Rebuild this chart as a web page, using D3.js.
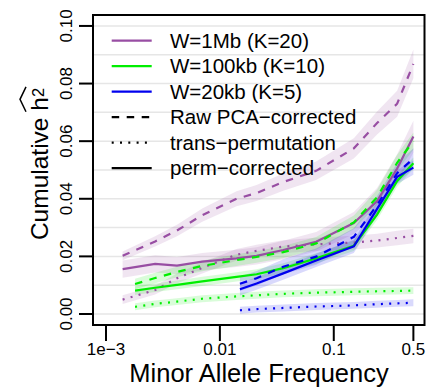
<!DOCTYPE html>
<html lang="en">
<head>
  <meta charset="UTF-8">
  <title>Cumulative h2 by MAF</title>
  <script src="https://d3js.org/d3.v7.min.js"></script>
  <style>
    body { margin: 0; background: #fff; }
    text { font-family: "Liberation Sans", Arial, Helvetica, sans-serif; fill: #000; }
  </style>
</head>
<body>
  <svg id="chart"></svg>

  <script>
    // MAF points (x) for each window size
    const mafW1 = [0.0014, 0.0027, 0.0042, 0.007, 0.014, 0.021, 0.036, 0.07, 0.15, 0.24, 0.36, 0.5];
    const mafW100 = [0.0018, 0.0027, 0.0042, 0.007, 0.014, 0.021, 0.036, 0.07, 0.15, 0.24, 0.36, 0.5];
    const mafW20 = [0.015, 0.021, 0.036, 0.07, 0.15, 0.24, 0.36, 0.5];

    // W=1Mb (K=20)
    const raw1 = [0.0202, 0.0252, 0.0290, 0.0343, 0.0400, 0.0420, 0.0458, 0.0497, 0.0575, 0.0663, 0.0730, 0.0868];
    const raw1Se = [0.0015, 0.0018, 0.002, 0.0023, 0.0026, 0.0028, 0.003, 0.0032, 0.0035, 0.004, 0.0045, 0.005];
    const perm1 = [0.0156, 0.0174, 0.0168, 0.0182, 0.0193, 0.0202, 0.0222, 0.0251, 0.0316, 0.0392, 0.0505, 0.0616];
    const perm1Se = [0.003, 0.003, 0.003, 0.003, 0.003, 0.003, 0.0032, 0.0034, 0.0038, 0.0045, 0.005, 0.0055];
    const trans1 = [0.0050, 0.0083, 0.0124, 0.0160, 0.0206, 0.0219, 0.0234, 0.0242, 0.0248, 0.0255, 0.0264, 0.0271];
    const trans1Se = [0.0015, 0.0015, 0.0017, 0.0019, 0.002, 0.0021, 0.0022, 0.0023, 0.0024, 0.0024, 0.0025, 0.0025];

    // W=100kb (K=10)
    const raw100 = [0.0104, 0.0125, 0.0146, 0.0167, 0.0187, 0.0198, 0.0215, 0.0245, 0.0318, 0.0405, 0.0525, 0.0600];
    const raw100Se = [0.0018, 0.0018, 0.0018, 0.0019, 0.002, 0.002, 0.0021, 0.0022, 0.0024, 0.0026, 0.0028, 0.003];
    const perm100 = [0.0081, 0.0091, 0.0101, 0.0113, 0.0129, 0.0138, 0.0159, 0.0193, 0.0237, 0.0345, 0.0462, 0.0523];
    const perm100Se = [0.0015, 0.0015, 0.0015, 0.0016, 0.0016, 0.0017, 0.0017, 0.0018, 0.0018, 0.0019, 0.002, 0.002];
    const trans100 = [0.0025, 0.0035, 0.0043, 0.0053, 0.0061, 0.0065, 0.0070, 0.0074, 0.0077, 0.0079, 0.0080, 0.0081];
    const trans100Se = [0.0012, 0.0012, 0.0012, 0.0012, 0.0012, 0.0012, 0.0012, 0.0012, 0.0012, 0.0012, 0.0012, 0.0012];

    // W=20kb (K=5)
    const raw20 = [0.0105, 0.0124, 0.0164, 0.0199, 0.0268, 0.0378, 0.0489, 0.0540];
    const raw20Se = [0.0025, 0.0025, 0.0026, 0.0028, 0.003, 0.0032, 0.0035, 0.0035];
    const perm20 = [0.0086, 0.0106, 0.0141, 0.0186, 0.0235, 0.0365, 0.0476, 0.0508];
    const perm20Se = [0.0022, 0.0022, 0.0022, 0.0023, 0.0023, 0.0024, 0.0025, 0.0025];
    const trans20 = [0.0013, 0.0017, 0.0021, 0.0026, 0.0030, 0.0034, 0.0037, 0.0039];
    const trans20Se = [0.0012, 0.0012, 0.0012, 0.0012, 0.0012, 0.0012, 0.0012, 0.0012];

    const xTicks = [0.001, 0.01, 0.1, 0.5];
    const xTickLabels = ["1e\u22123", "0.01", "0.1", "0.5"];
    const yTicks = [0, 0.02, 0.04, 0.06, 0.08, 0.10];
    const yGrid = d3.range(0, 0.1001, 0.01);

    const legendLabels = ["W=1Mb (K=20)", "W=100kb (K=10)", "W=20kb (K=5)",
      "Raw PCA\u2212corrected", "trans\u2212permutation", "perm\u2212corrected"];

    const purple = "#984ea3", green = "#00ee00", blue = "#0000ee";
    const dashed = "7.5,7.5", dotted = "2,6.3";

    const series = [
      { maf: mafW1, val: raw1, se: raw1Se, color: purple, dash: dashed },
      { maf: mafW1, val: perm1, se: perm1Se, color: purple, dash: null },
      { maf: mafW1, val: trans1, se: trans1Se, color: purple, dash: dotted },
      { maf: mafW100, val: raw100, se: raw100Se, color: green, dash: dashed },
      { maf: mafW100, val: perm100, se: perm100Se, color: green, dash: null },
      { maf: mafW100, val: trans100, se: trans100Se, color: green, dash: dotted },
      { maf: mafW20, val: raw20, se: raw20Se, color: blue, dash: dashed },
      { maf: mafW20, val: perm20, se: perm20Se, color: blue, dash: null },
      { maf: mafW20, val: trans20, se: trans20Se, color: blue, dash: dotted }
    ];

    const width = 427, height = 389;
    const pLeft = 93, pRight = 424.5, pTop = 15, pBottom = 325;

    const svg = d3.select("#chart").attr("width", width).attr("height", height);

    const x = d3.scaleLog().domain([0.000769, 0.626]).range([pLeft, pRight]);
    const y = d3.scaleLinear().domain([-0.00382, 0.1038]).range([pBottom, pTop]);

    // grid
    svg.append("g").selectAll("line")
      .data(yGrid)
      .join("line")
      .attr("x1", pLeft).attr("x2", pRight)
      .attr("y1", d => y(d)).attr("y2", d => y(d))
      .attr("stroke", "#e6e6e6").attr("stroke-width", 1.5);

    // bands
    const area = d3.area()
      .x(d => x(d.m))
      .y0(d => y(d.v - d.s))
      .y1(d => y(d.v + d.s));

    const line = d3.line()
      .x(d => x(d.m))
      .y(d => y(d.v));

    series.forEach(s => {
      s.pts = s.maf.map((m, i) => ({ m, v: s.val[i], s: s.se[i] }));
    });

    svg.append("g").selectAll("path")
      .data(series)
      .join("path")
      .attr("d", s => area(s.pts))
      .attr("fill", s => s.color)
      .attr("fill-opacity", 0.15);

    svg.append("g").selectAll("path")
      .data(series)
      .join("path")
      .attr("d", s => line(s.pts))
      .attr("fill", "none")
      .attr("stroke", s => s.color)
      .attr("stroke-width", 2.2)
      .attr("stroke-dasharray", s => s.dash);

    // legend
    const legendColors = [purple, green, blue, "#000", "#000", "#000"];
    const legendDash = [null, null, null, dashed, dotted, null];
    const lg = svg.append("g");
    legendLabels.forEach((lab, i) => {
      const ly = 40.7 + i * 25.5;
      lg.append("line")
        .attr("x1", 111.7).attr("x2", 151.7)
        .attr("y1", ly).attr("y2", ly)
        .attr("stroke", legendColors[i])
        .attr("stroke-width", 2.2)
        .attr("stroke-dasharray", legendDash[i]);
      lg.append("text")
        .attr("x", 170).attr("y", ly + 7)
        .style("font-size", "20.5px")
        .text(lab);
    });

    // box
    svg.append("rect")
      .attr("x", pLeft).attr("y", pTop)
      .attr("width", pRight - pLeft).attr("height", pBottom - pTop)
      .attr("fill", "none").attr("stroke", "#000").attr("stroke-width", 2);

    // x axis
    const xa = svg.append("g");
    xa.selectAll("line")
      .data(xTicks)
      .join("line")
      .attr("x1", d => x(d)).attr("x2", d => x(d))
      .attr("y1", pBottom).attr("y2", 341)
      .attr("stroke", "#000").attr("stroke-width", 2);
    xa.selectAll("text")
      .data(xTicks)
      .join("text")
      .attr("x", d => x(d)).attr("y", 355)
      .attr("text-anchor", "middle")
      .style("font-size", "17px")
      .text((d, i) => xTickLabels[i]);

    svg.append("text")
      .attr("x", 259).attr("y", 382)
      .attr("text-anchor", "middle")
      .style("font-size", "25.5px")
      .text("Minor Allele Frequency");

    // y axis
    const ya = svg.append("g");
    ya.selectAll("line")
      .data(yTicks)
      .join("line")
      .attr("x1", 79).attr("x2", pLeft)
      .attr("y1", d => y(d)).attr("y2", d => y(d))
      .attr("stroke", "#000").attr("stroke-width", 2);
    ya.selectAll("text")
      .data(yTicks)
      .join("text")
      .attr("transform", d => `translate(72,${y(d)}) rotate(-90)`)
      .attr("text-anchor", "middle")
      .style("font-size", "17px")
      .text(d => d.toFixed(2));

    const yt = svg.append("g").attr("transform", "translate(48,164) rotate(-90)");
    const ytext = yt.append("text")
      .attr("text-anchor", "middle")
      .style("font-size", "24.5px");
    ytext.append("tspan").text("Cumulative h");
    ytext.append("tspan").attr("dy", -4).style("font-size", "16.5px").text("2");

    const node = ytext.node();
    const n = node.getNumberOfChars();
    const hx0 = node.getStartPositionOfChar(n - 2).x;
    const hx1 = node.getEndPositionOfChar(n - 1).x;
    yt.append("path")
      .attr("d", `M${hx0 - 1},-22 L${(hx0 + hx1) / 2},-28 L${hx1 + 1},-22`)
      .attr("fill", "none")
      .attr("stroke", "#000")
      .attr("stroke-width", 1.5);
  </script>
</body>
</html>
